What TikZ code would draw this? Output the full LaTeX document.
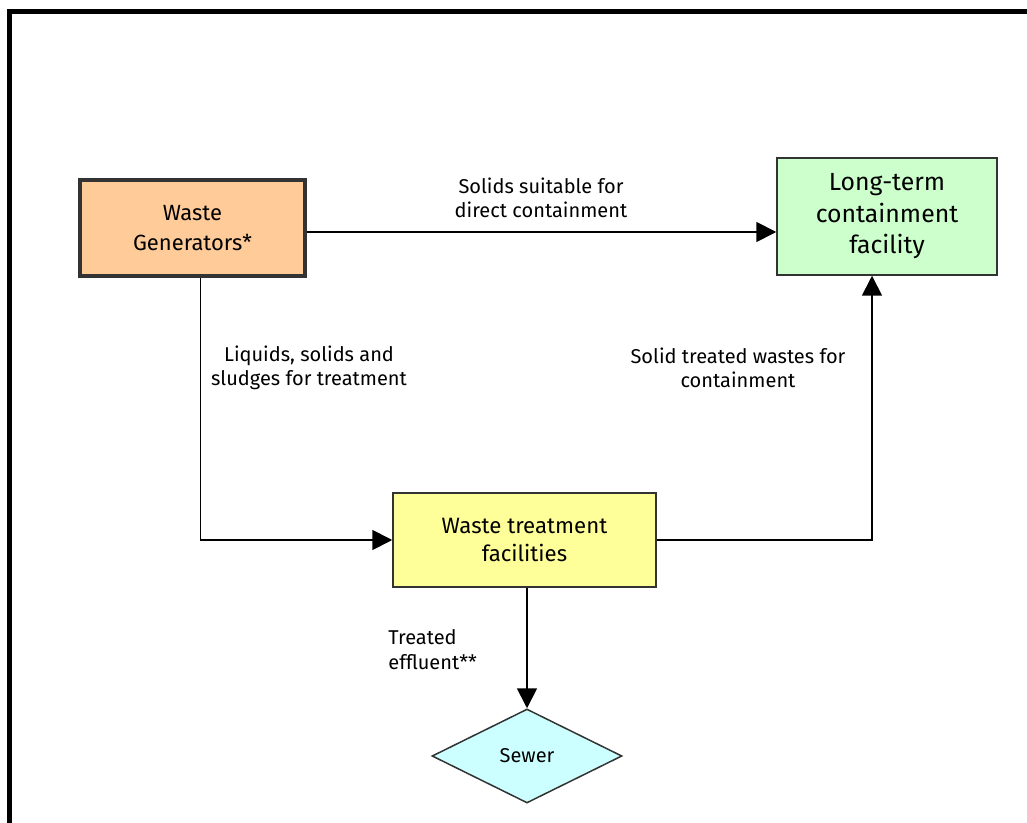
\documentclass[tikz,border=0pt]{standalone}
\usepackage{fontspec}
\setmainfont{Fira Sans}
\usetikzlibrary{shapes.geometric,positioning,arrows.meta}
\definecolor{generatorfill}{HTML}{FFCC99}
\definecolor{containfill}{HTML}{CCFFCC}
\definecolor{treatfill}{HTML}{FFFF99}
\definecolor{sewerfill}{HTML}{CCFFFF}

\begin{document}
\begin{tikzpicture}[x=0.5pt,y=-0.5pt]

\tikzset{
     element/.style={
     	rectangle,
     	draw=black!80,
  	 	line width=0.75pt,
  	 	align=center,
  	 	inner sep=0pt
     }
}

\tikzset{
	flowlabel/.style={
		align=center,
		inner sep=0pt,
		font=\fontsize{10}{12}\selectfont
	}
}

\tikzset{
	flow/.style={
		line width=0.9pt,
		-{Triangle[length=10pt,width=10pt]}
	}
}

\def\sidegap{-2pt}

\useasboundingbox (0,0) rectangle (1027,823);

% frame
\draw[line width=2.5pt] (9.5,823) -- (9.5,11.5) -- (1027,11.5);

% waste generators
\node[element, line width=2pt, draw=black!80, fill=generatorfill,
      minimum width=112.5pt, minimum height=48pt,
      font=\fontsize{11}{15}\selectfont] (generators) at (192.5,228) {Waste\\Generators*};

% long-term containment
\node[element, fill=containfill, minimum width=110pt, minimum height=58.5pt,
      font=\fontsize{12.4}{15.75}\selectfont] (containment) at (887,216.5) {Long-term\\containment\\facility};

% treatment
\node[element, fill=treatfill, minimum width=131.5pt, minimum height=47pt,
      font=\fontsize{11.1}{14}\selectfont] (treatment) at (524.5,540) {Waste treatment\\facilities};

% sewer
\node[diamond, draw=black!80, line width=0.75pt, fill=sewerfill, inner sep=0pt,
      minimum width=95pt, minimum height=47pt,
      font=\fontsize{10}{11}\selectfont] (sewer) at (527,756) {Sewer};

% connectors
\draw[flow] ([yshift=\sidegap]generators.east) -- ([yshift=\sidegap]generators.east -| containment.west);
\draw[flow] ([xshift=4pt]generators.south) |- (treatment.west);
\draw[flow] (treatment.east) -| ([xshift=-7.5pt]containment.south);
\draw[flow] (treatment.south -| sewer.north) -- (sewer.north);

% labels
\node[flowlabel] (directlabel) at (541,198) {Solids suitable for\\direct containment};
\node[flowlabel] (sludgelabel) at (309,368) {Liquids, solids and\\sludges for treatment};
\node[flowlabel] (solidlabel) at (738,368) {Solid treated wastes for\\containment};
\node[flowlabel, align=left, anchor=west, font=\fontsize{10}{12.5}\selectfont] (effluentlabel) at (388,650) {Treated\\effluent**};

\end{tikzpicture}
\end{document}
